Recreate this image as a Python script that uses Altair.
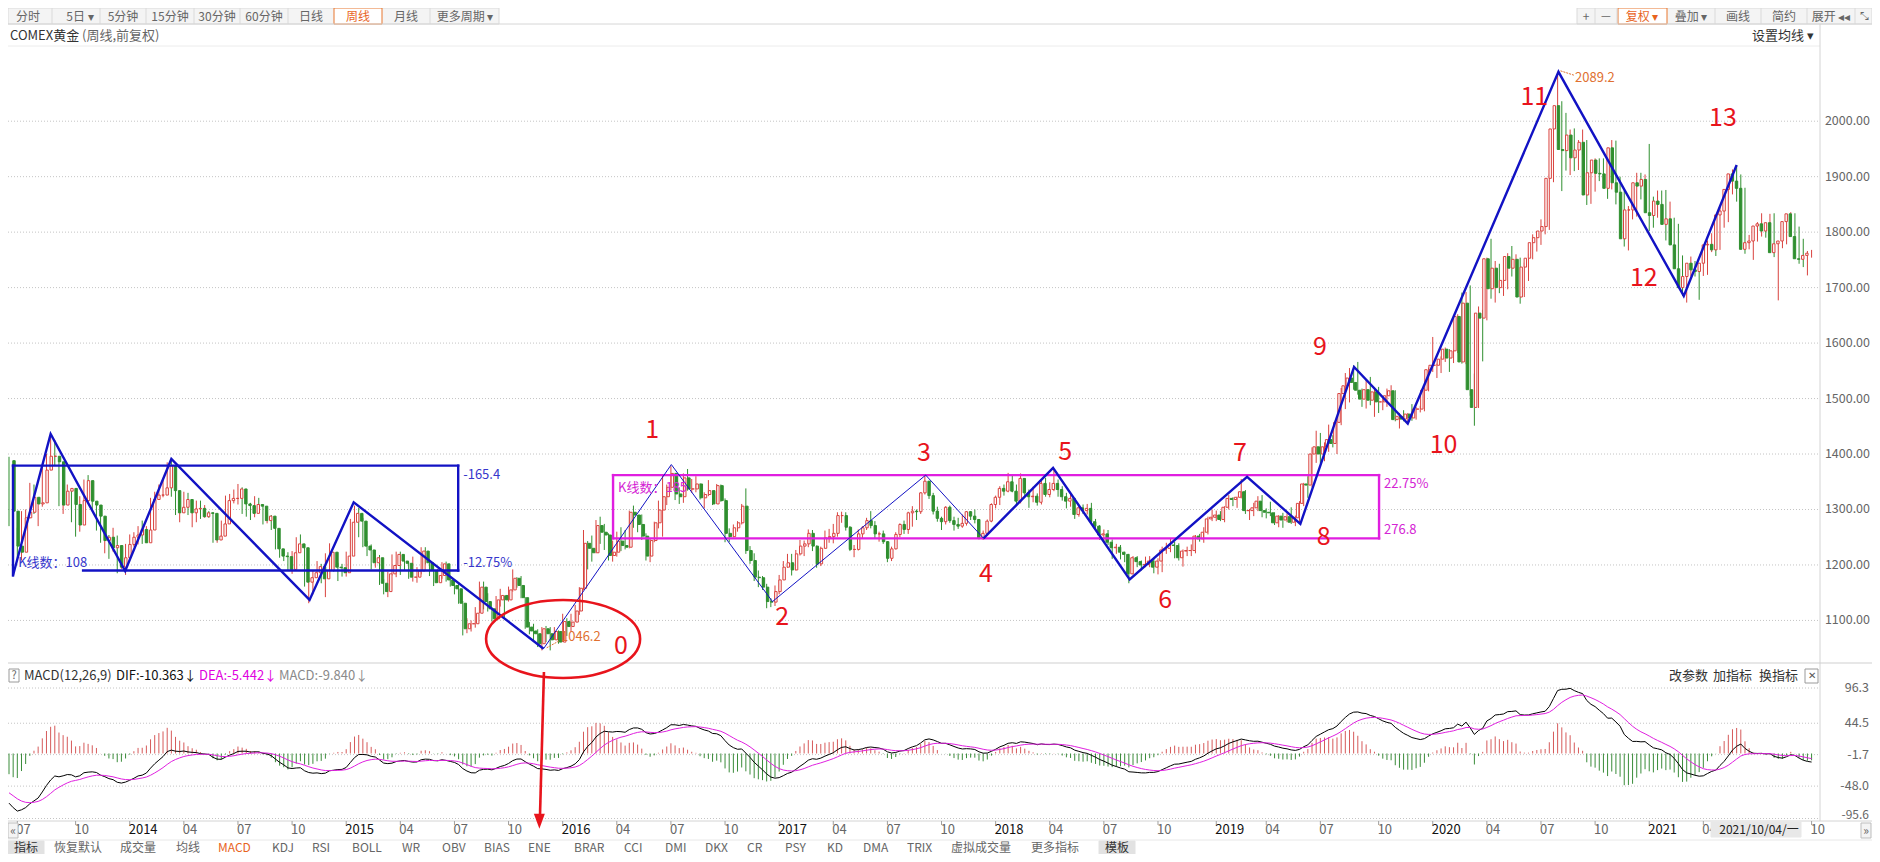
import altair as alt
import pandas as pd

FONT = "Noto Sans CJK SC"
W, H = 1864, 846
RED = "#d9423e"
GREEN = "#2f8f2f"
HRED = "#d65a5a"
HGREEN = "#3a8c3a"
BLUE = "#1212c4"
MAG = "#e01ee0"
ANN_RED = "#e8141c"
ORANGE = "#e07030"

# ---------------- weekly candles: index 0 = week of 2013-06-17 ... 433 = week of 2021-10-04
first_open = 1388
close_2013 = [1297,1234,1223,1285,1295,1322,1310,1312,1371,1396,1396,1386,1308,1333,1338,1309,1272,1316,1352,1315,1308,1288,1244,1250,1231,1235,1196,1213,1237]
high_2013 = [1395,1300,1267,1297,1300,1348,1345,1318,1378,1400,1434,1425,1390,1370,1345,1338,1325,1324,1354,1362,1327,1312,1295,1256,1254,1267,1253,1217,1238]
low_2013 = [1270,1180,1207,1208,1270,1284,1292,1270,1305,1357,1382,1380,1306,1292,1312,1277,1251,1260,1313,1310,1300,1262,1240,1221,1211,1224,1185,1193,1182]

close_2014 = [1250,1254,1264,1240,1263,1318,1326,1326,1339,1379,1334,1294,1304,1318,1294,1301,1302,1287,1294,1293,1245,1252,1274,1316,1320,1320,1337,1310,1307,1293,1309,1306,1280,1288,1266,1229,1216,1215,1192,1222,1238,1231,1169,1177,1186,1197,1175,1190,1223,1196,1195,1186]
high_2014 = [1255,1259,1270,1280,1270,1321,1332,1345,1355,1385,1392,1338,1305,1332,1330,1306,1316,1316,1308,1297,1295,1255,1280,1325,1328,1336,1346,1340,1320,1312,1324,1321,1307,1295,1290,1271,1238,1229,1223,1225,1250,1255,1235,1178,1190,1207,1202,1221,1239,1222,1204,1202]
low_2014 = [1217,1233,1237,1238,1240,1260,1306,1321,1322,1337,1323,1290,1277,1297,1290,1268,1277,1283,1285,1285,1240,1240,1250,1270,1311,1311,1309,1292,1287,1281,1286,1300,1273,1275,1263,1228,1213,1207,1190,1184,1219,1226,1161,1131,1147,1180,1167,1142,1187,1188,1171,1179]

close_2015 = [1216,1277,1293,1279,1234,1227,1204,1213,1167,1152,1184,1199,1219,1207,1203,1178,1178,1189,1225,1204,1190,1168,1181,1202,1173,1163,1157,1131,1085,1094,1094,1113,1160,1134,1121,1103,1137,1145,1137,1155,1176,1163,1141,1088,1081,1076,1058,1085,1076,1065,1080,1061]
high_2015 = [1224,1283,1307,1303,1285,1243,1237,1222,1218,1174,1188,1219,1224,1224,1209,1205,1215,1196,1232,1232,1208,1199,1193,1205,1206,1180,1174,1168,1135,1104,1100,1124,1170,1170,1149,1124,1144,1157,1145,1161,1192,1178,1180,1142,1097,1094,1084,1088,1090,1088,1088,1082]
low_2015 = [1179,1210,1275,1250,1232,1216,1192,1195,1164,1147,1142,1181,1178,1182,1191,1175,1170,1168,1183,1201,1180,1162,1170,1175,1170,1161,1147,1130,1073,1077,1080,1087,1113,1120,1116,1098,1102,1125,1105,1134,1152,1159,1140,1085,1075,1063,1052,1046,1061,1046,1067,1058]

close_2016 = [1098,1089,1097,1117,1158,1239,1230,1222,1271,1259,1254,1217,1223,1243,1235,1232,1295,1290,1273,1252,1216,1244,1276,1299,1323,1340,1365,1328,1323,1357,1337,1337,1346,1321,1327,1334,1310,1343,1316,1257,1251,1267,1276,1306,1226,1208,1178,1177,1160,1134,1133,1152]
high_2016 = [1112,1104,1112,1128,1160,1263,1243,1253,1281,1287,1274,1257,1244,1260,1268,1263,1298,1307,1286,1291,1257,1248,1278,1316,1362,1345,1378,1366,1340,1365,1373,1355,1360,1347,1331,1353,1330,1346,1345,1320,1266,1273,1279,1310,1338,1234,1221,1190,1180,1166,1140,1163]
low_2016 = [1071,1072,1080,1097,1110,1155,1192,1206,1221,1238,1227,1208,1206,1215,1225,1228,1230,1267,1259,1245,1208,1205,1241,1266,1251,1308,1334,1317,1310,1312,1334,1330,1331,1318,1302,1324,1308,1310,1314,1241,1241,1250,1260,1273,1220,1202,1171,1160,1155,1122,1124,1126]

close_2017 = [1173,1196,1204,1191,1220,1234,1238,1257,1234,1202,1230,1249,1251,1257,1289,1289,1268,1228,1228,1256,1267,1280,1271,1256,1256,1242,1212,1229,1255,1273,1264,1294,1297,1296,1330,1351,1325,1297,1284,1278,1304,1280,1273,1270,1275,1296,1288,1282,1248,1257,1279,1309]
high_2017 = [1182,1207,1220,1220,1227,1245,1244,1264,1263,1235,1233,1262,1265,1274,1295,1296,1295,1270,1236,1264,1270,1285,1297,1279,1260,1262,1243,1233,1259,1275,1280,1296,1306,1300,1331,1362,1348,1330,1305,1287,1306,1307,1287,1285,1291,1297,1297,1300,1280,1262,1282,1311]
low_2017 = [1147,1173,1195,1181,1190,1217,1216,1232,1225,1195,1198,1230,1240,1239,1251,1276,1262,1225,1214,1226,1248,1263,1266,1248,1242,1238,1205,1207,1228,1250,1256,1256,1269,1281,1292,1327,1319,1291,1278,1263,1273,1276,1262,1265,1267,1271,1281,1275,1246,1245,1253,1277]

close_2018 = [1322,1338,1333,1350,1333,1315,1356,1330,1323,1324,1313,1347,1327,1336,1347,1336,1323,1315,1320,1291,1303,1298,1302,1278,1270,1254,1256,1241,1231,1232,1223,1219,1184,1213,1206,1200,1201,1207,1196,1207,1227,1230,1236,1235,1213,1225,1226,1226,1252,1247,1259,1283,1286]
high_2018 = [1325,1342,1345,1366,1361,1345,1365,1355,1336,1341,1329,1355,1357,1349,1372,1354,1342,1330,1329,1321,1308,1309,1310,1312,1283,1272,1264,1263,1246,1238,1236,1224,1220,1216,1216,1208,1215,1216,1213,1212,1233,1240,1248,1242,1239,1228,1233,1237,1254,1256,1268,1287,1300]
low_2018 = [1302,1308,1325,1331,1331,1307,1311,1322,1303,1313,1307,1309,1323,1322,1333,1323,1316,1302,1305,1283,1287,1292,1291,1275,1262,1245,1240,1236,1211,1220,1210,1205,1167,1183,1196,1190,1196,1196,1185,1183,1187,1220,1223,1212,1208,1197,1216,1216,1221,1242,1240,1255,1279]

close_2019 = [1290,1282,1304,1320,1318,1322,1332,1298,1298,1303,1315,1298,1295,1294,1276,1288,1281,1287,1277,1285,1311,1346,1344,1400,1413,1400,1413,1426,1419,1457,1509,1523,1537,1529,1515,1499,1516,1497,1512,1494,1494,1505,1514,1462,1468,1463,1472,1465,1481,1481,1515,1552]
high_2019 = [1298,1297,1306,1326,1322,1323,1355,1335,1301,1312,1324,1326,1302,1314,1295,1290,1294,1293,1304,1289,1315,1348,1360,1412,1442,1438,1421,1453,1434,1459,1519,1546,1555,1560,1566,1518,1535,1539,1520,1521,1500,1518,1524,1515,1474,1479,1474,1490,1485,1487,1519,1556]
low_2019 = [1279,1279,1277,1300,1306,1303,1320,1292,1281,1288,1297,1286,1284,1288,1272,1268,1267,1277,1274,1270,1274,1306,1321,1340,1384,1383,1387,1404,1412,1400,1452,1481,1493,1516,1507,1485,1482,1488,1467,1474,1479,1485,1489,1459,1446,1459,1454,1460,1462,1475,1477,1513]

close_2020 = [1560,1560,1571,1589,1573,1586,1648,1566,1672,1516,1484,1654,1645,1752,1698,1735,1700,1713,1756,1735,1751,1683,1737,1753,1781,1790,1802,1810,1897,1986,2028,1949,1947,1975,1934,1948,1962,1867,1907,1930,1906,1905,1879,1952,1889,1872,1788,1840,1840,1889,1883,1895]
high_2020 = [1611,1563,1576,1592,1585,1588,1652,1691,1692,1704,1545,1666,1660,1754,1788,1748,1743,1722,1762,1775,1760,1754,1745,1761,1796,1799,1823,1818,1904,1988,2089,2036,2015,1985,1987,1966,1985,1966,1920,1933,1933,1933,1911,1966,1965,1900,1875,1847,1877,1907,1907,1904]
low_2020 = [1548,1537,1546,1566,1548,1564,1582,1563,1562,1505,1451,1483,1567,1641,1680,1673,1690,1685,1697,1720,1697,1671,1693,1712,1751,1765,1777,1796,1804,1890,1965,1874,1911,1903,1910,1912,1939,1849,1851,1873,1892,1895,1860,1877,1850,1853,1774,1767,1823,1828,1859,1870]

close_2021 = [1835,1830,1856,1850,1814,1824,1777,1734,1700,1720,1744,1732,1729,1744,1777,1778,1768,1831,1838,1877,1905,1892,1879,1769,1781,1784,1811,1815,1802,1817,1763,1779,1784,1819,1833,1792,1752,1751,1758,1762]
high_2021 = [1959,1864,1875,1875,1876,1855,1826,1815,1758,1740,1756,1748,1739,1759,1785,1798,1790,1846,1846,1890,1913,1921,1904,1880,1795,1795,1818,1834,1817,1833,1834,1783,1795,1823,1836,1834,1810,1788,1766,1768]
low_2021 = [1802,1808,1826,1832,1785,1810,1761,1717,1685,1673,1720,1720,1678,1721,1723,1764,1757,1768,1808,1818,1868,1855,1867,1761,1770,1750,1783,1792,1790,1789,1755,1677,1771,1778,1808,1780,1743,1737,1722,1754]

closes = close_2013 + close_2014 + close_2015 + close_2016 + close_2017 + close_2018 + close_2019 + close_2020 + close_2021
highs = high_2013 + high_2014 + high_2015 + high_2016 + high_2017 + high_2018 + high_2019 + high_2020 + high_2021
lows = low_2013 + low_2014 + low_2015 + low_2016 + low_2017 + low_2018 + low_2019 + low_2020 + low_2021
opens = [first_open] + closes[:-1]

# MACD(12,26,9) from the closes; EMA states carried in from before the first visible week
ema12, ema26, dea = 1400.0, 1470.0, -54.0
difs, deas, macds = [], [], []
for c in closes:
    ema12 += (c - ema12) * 2 / 13
    ema26 += (c - ema26) * 2 / 27
    d = ema12 - ema26
    dea += (d - dea) * 2 / 10
    difs.append(d)
    deas.append(dea)
    macds.append(2 * (d - dea))

n = len(closes)
kdf = pd.DataFrame({
    "i": list(range(n)), "o": opens, "c": closes,
    "h": [max(h, o, c) for h, o, c in zip(highs, opens, closes)],
    "l": [min(l, o, c) for l, o, c in zip(lows, opens, closes)],
})
mdf = pd.DataFrame({"i": list(range(n)), "dif": difs, "dea": deas, "macd": macds, "zero": [0.0] * n})

# ---------------- scales (one plot area; price and MACD panels share it)
X_DOM = [-1 / 4.163, (W - 1) / 4.163]
P_DOM = [2000 - (H - 113.2) / 0.5547, 2000 + 113.2 / 0.5547]
M_DOM = [96.3 - (H - 680) / 0.68, 96.3 + 680 / 0.68]
xs = alt.Scale(domain=X_DOM, nice=False, zero=False)
ps = alt.Scale(domain=P_DOM, nice=False, zero=False)
ms = alt.Scale(domain=M_DOM, nice=False, zero=False)


def X(f):
    return alt.X(f, type="quantitative", scale=xs, axis=None)


def YP(f):
    return alt.Y(f, type="quantitative", scale=ps, axis=None)


def YM(f):
    return alt.Y(f, type="quantitative", scale=ms, axis=None)


layers = []

# ---------------- UI chrome (pixel positions)
def ui_rects(rows, sw=1):
    df = pd.DataFrame(rows, columns=["x", "x2", "y", "y2", "fill", "stroke"])
    return alt.Chart(df).mark_rect(strokeWidth=sw).encode(
        x=alt.X("x:Q", scale=None), x2="x2:Q", y=alt.Y("y:Q", scale=None), y2="y2:Q",
        fill=alt.Fill("fill:N", scale=None), stroke=alt.Stroke("stroke:N", scale=None))


def ui_lines(rows):
    df = pd.DataFrame(rows, columns=["x", "x2", "y", "y2", "col"])
    return alt.Chart(df).mark_rule(strokeWidth=1).encode(
        x=alt.X("x:Q", scale=None), x2="x2:Q", y=alt.Y("y:Q", scale=None), y2="y2:Q",
        color=alt.Color("col:N", scale=None))


def ui_text(rows, align):
    df = pd.DataFrame(rows, columns=["x", "y", "t", "col", "sz"])
    return alt.Chart(df).mark_text(align=align, baseline="middle", font=FONT).encode(
        x=alt.X("x:Q", scale=None), y=alt.Y("y:Q", scale=None), text="t:N",
        color=alt.Color("col:N", scale=None), size=alt.Size("sz:Q", scale=None))


layers.append(ui_rects([
    (0, 491, 0, 16, "#f4f4f4", "#dadada"),
    (326, 374, 0, 16, "#ffffff", "#e8772e"),
    (1569, 1864, 0, 16, "#f4f4f4", "#dadada"),
    (1610, 1659, 0, 16, "#ffffff", "#e8772e"),
    (1, 11, 661, 674, "#ffffff", "#9a9a9a"),
    (1797, 1810, 661, 675, "#ffffff", "#9a9a9a"),
    (0, 36, 833, 846, "#e2e2e2", "#e2e2e2"),
    (1091, 1127, 833, 846, "#e2e2e2", "#e2e2e2"),
]))
layers.append(ui_lines([
    (44, 44, 0, 16, "#dadada"), (92, 92, 0, 16, "#dadada"), (138, 138, 0, 16, "#dadada"),
    (186, 186, 0, 16, "#dadada"), (232, 232, 0, 16, "#dadada"), (280, 280, 0, 16, "#dadada"),
    (422, 422, 0, 16, "#dadada"),
    (1587, 1587, 0, 16, "#dadada"), (1609, 1609, 0, 16, "#dadada"), (1707, 1707, 0, 16, "#dadada"),
    (1753, 1753, 0, 16, "#dadada"), (1799, 1799, 0, 16, "#dadada"), (1847, 1847, 0, 16, "#dadada"),
    (0, 1864, 16, 16, "#d6d6d6"),
    (0, 1812, 38, 38, "#ececec"),
    (1812, 1812, 16, 813, "#d4d4d4"),
    (0, 1864, 655, 655, "#cfcfcf"),
    (0, 1864, 813, 813, "#d4d4d4"),
    (0, 1864, 832, 832, "#e8e8e8"),
]))

# ---------------- grid lines and value labels
price_levels = [1100, 1200, 1300, 1400, 1500, 1600, 1700, 1800, 1900, 2000]
gp = pd.DataFrame({"p": price_levels, "t": ["%.2f" % v for v in price_levels]})
layers.append(alt.Chart(gp).mark_rule(strokeDash=[1, 2], color="#c4c4c4", strokeWidth=1).encode(
    y=YP("p"), x=alt.value(0), x2=alt.value(1811)))
layers.append(alt.Chart(gp).mark_text(align="right", baseline="middle", fontSize=12.5, font=FONT, color="#666666").encode(
    y=YP("p"), x=alt.value(1862), text="t:N"))

macd_levels = [96.3, 44.5, -1.7, -48.0, -95.6]
gm = pd.DataFrame({"m": macd_levels, "t": ["%.1f" % v for v in macd_levels]})
layers.append(alt.Chart(gm).mark_rule(strokeDash=[1, 2], color="#c4c4c4", strokeWidth=1).encode(
    y=YM("m"), x=alt.value(0), x2=alt.value(1811)))
layers.append(alt.Chart(gm.iloc[:4]).mark_text(align="right", baseline="middle", fontSize=12.5, font=FONT, color="#666666").encode(
    y=YM("m"), x=alt.value(1861), text="t:N"))
layers.append(alt.Chart(gm.iloc[4:]).mark_text(align="right", baseline="middle", dy=-3, fontSize=12, font=FONT, color="#666666").encode(
    y=YM("m"), x=alt.value(1861), text="t:N"))

# ---------------- candles
upcond = "datum.c >= datum.o"
layers.append(alt.Chart(kdf).mark_rule(strokeWidth=1).encode(
    x=X("i"), y=YP("l"), y2=alt.Y2("h"),
    color=alt.condition(upcond, alt.value(RED), alt.value(GREEN))))
layers.append(alt.Chart(kdf).mark_bar(size=2.4, strokeWidth=1).encode(
    x=X("i"), y=YP("o"), y2=alt.Y2("c"),
    fill=alt.condition(upcond, alt.value("#ffffff"), alt.value(GREEN)),
    stroke=alt.condition(upcond, alt.value(RED), alt.value(GREEN))))

# ---------------- MACD panel
layers.append(alt.Chart(mdf).mark_rule(strokeWidth=1).encode(
    x=X("i"), y=YM("zero"), y2=alt.Y2("macd"),
    color=alt.condition("datum.macd >= 0", alt.value(HRED), alt.value(HGREEN))))
layers.append(alt.Chart(mdf).mark_line(color="#000000", strokeWidth=1).encode(x=X("i"), y=YM("dif")))
layers.append(alt.Chart(mdf).mark_line(color="#e020e0", strokeWidth=1).encode(x=X("i"), y=YM("dea")))

# ---------------- drawn annotations
rect1 = pd.DataFrame({
    "i": [0.96, 107.9, 17.8, 0.96], "i2": [107.9, 107.9, 107.9, 0.96],
    "p": [1379, 1379, 1190, 1379], "p2": [1379, 1190, 1190, 1181]})
layers.append(alt.Chart(rect1).mark_rule(color=BLUE, strokeWidth=2.4, strokeCap="square").encode(
    x=X("i"), x2=alt.X2("i2"), y=YP("p"), y2=alt.Y2("p2")))
rect2 = pd.DataFrame({
    "i": [145.1, 329.1, 145.1, 145.1], "i2": [329.1, 329.1, 329.1, 145.1],
    "p": [1362, 1362, 1248, 1362], "p2": [1362, 1248, 1248, 1248]})
layers.append(alt.Chart(rect2).mark_rule(color=MAG, strokeWidth=2.4, strokeCap="square").encode(
    x=X("i"), x2=alt.X2("i2"), y=YP("p"), y2=alt.Y2("p2")))

zz_thick1 = pd.DataFrame({"i": [0.96, 10.0, 27.9, 39.0, 72.2, 82.8, 128.4],
                          "p": [1181, 1436, 1189, 1391, 1137, 1313, 1049]})
zz_thin = pd.DataFrame({"i": [128.4, 159.1, 183.4, 220.2, 234.1],
                        "p": [1049, 1381, 1134, 1362, 1248]})
zz_thick2 = pd.DataFrame({"i": [234.1, 250.8, 269.2, 297.4, 310.2, 323.1, 336.0, 372.2, 402.3, 415.0],
                          "p": [1248, 1375, 1174, 1359, 1274, 1557, 1455, 2089, 1685, 1921]})
layers.append(alt.Chart(zz_thick1).mark_line(color=BLUE, strokeWidth=2.4).encode(x=X("i"), y=YP("p")))
layers.append(alt.Chart(zz_thin).mark_line(color=BLUE, strokeWidth=1).encode(x=X("i"), y=YP("p")))
layers.append(alt.Chart(zz_thick2).mark_line(color=BLUE, strokeWidth=2.4).encode(x=X("i"), y=YP("p")))

blue_lbl = pd.DataFrame({"i": [2.2, 109.1, 109.1], "p": [1203.5, 1362, 1204],
                         "t": ["K线数：108", "-165.4", "-12.75%"]})
layers.append(alt.Chart(blue_lbl).mark_text(align="left", baseline="middle", fontSize=13, font=FONT, color="#3636cc").encode(
    x=X("i"), y=YP("p"), text="t:N"))
mag_lbl = pd.DataFrame({"i": [146.3, 330.3, 330.3], "p": [1339, 1346, 1263],
                        "t": ["K线数：185", "22.75%", "276.8"]})
layers.append(alt.Chart(mag_lbl).mark_text(align="left", baseline="middle", fontSize=13, font=FONT, color="#d424d4").encode(
    x=X("i"), y=YP("p"), text="t:N"))
org_lbl = pd.DataFrame({"i": [376.2, 132.6], "p": [2078, 1070], "t": ["2089.2", "1046.2"]})
layers.append(alt.Chart(org_lbl).mark_text(align="left", baseline="middle", fontSize=13, font=FONT, color=ORANGE).encode(
    x=X("i"), y=YP("p"), text="t:N"))
org_arrow = pd.DataFrame({"i": [375.9, 132.1], "i2": [372.6, 129.0], "p": [2083, 1063], "p2": [2091, 1050]})
layers.append(alt.Chart(org_arrow).mark_rule(color=ORANGE, strokeWidth=1, strokeDash=[2, 1]).encode(
    x=X("i"), x2=alt.X2("i2"), y=YP("p"), y2=alt.Y2("p2")))

wave_i = [147.0, 154.5, 185.7, 219.8, 234.7, 253.7, 277.7, 295.7, 315.8, 314.9, 344.6, 366.4, 392.7, 411.7]
wave_p = [1054.6, 1443.3, 1106, 1401, 1184.6, 1404.5, 1136.8, 1401.8, 1251, 1593.8, 1415.4, 2043.6, 1718, 2004.9]
wave_t = ["0", "1", "2", "3", "4", "5", "6", "7", "8", "9", "10", "11", "12", "13"]
layers.append(alt.Chart(pd.DataFrame({"i": wave_i, "p": wave_p, "t": wave_t})).mark_text(
    align="center", baseline="middle", fontSize=25, font=FONT, color=ANN_RED).encode(
    x=X("i"), y=YP("p"), text="t:N"))

ELLIPSE = "M-1,0C-1,-0.2795,-0.5523,-0.506,0,-0.506C0.5523,-0.506,1,-0.2795,1,0C1,0.2795,0.5523,0.506,0,0.506C-0.5523,0.506,-1,0.2795,-1,0Z"
layers.append(alt.Chart(pd.DataFrame({"i": [133.1], "p": [1066.5]})).mark_point(
    shape=ELLIPSE, size=23716, filled=False, color=ANN_RED, strokeWidth=2.6, opacity=1).encode(
    x=X("i"), y=YP("p")))
layers.append(alt.Chart(pd.DataFrame({"i": [128.5], "i2": [127.55], "p": [1007], "p2": [748]})).mark_rule(
    color=ANN_RED, strokeWidth=2.6).encode(x=X("i"), x2=alt.X2("i2"), y=YP("p"), y2=alt.Y2("p2")))
layers.append(alt.Chart(pd.DataFrame({"i": [127.4], "p": [738]})).mark_point(
    shape="M-1,-1.35L1,-1.35L0,1.35Z", size=121, filled=True, color=ANN_RED, opacity=1).encode(
    x=X("i"), y=YP("p")))

# ---------------- time axis (the 2021 "07" label sits under the date box and is not shown)
tick_i = [2, 16, 29, 42, 55, 68, 81, 94, 107, 120, 133, 146, 159, 172, 185, 198, 211, 224, 237, 250, 263, 276,
          290, 302, 315, 329, 342, 355, 368, 381, 394, 407, 433]
tick_t = ["07", "10", "2014", "04", "07", "10", "2015", "04", "07", "10", "2016", "04", "07", "10", "2017", "04",
          "07", "10", "2018", "04", "07", "10", "2019", "04", "07", "10", "2020", "04", "07", "10", "2021", "04",
          "10"]
tdf = pd.DataFrame({"i": tick_i, "t": tick_t, "yr": [len(s) == 4 for s in tick_t]})
layers.append(alt.Chart(tdf).mark_rule(color="#a0a0a0", strokeWidth=1).encode(
    x=X("i"), y=alt.value(813), y2=alt.value(817)))
layers.append(alt.Chart(tdf).mark_text(align="left", baseline="middle", dx=-1, fontSize=13, font=FONT).encode(
    x=X("i"), y=alt.value(821.5), text="t:N",
    color=alt.condition("datum.yr", alt.value("#111111"), alt.value("#666666"))))

layers.append(ui_rects([
    (0, 10, 815, 830, "#f4f4f4", "#bdbdbd"),
    (1853, 1863, 815, 830, "#f4f4f4", "#bdbdbd"),
    (1703, 1793, 814, 829, "#e8e8e8", "#e8e8e8"),
]))

# ---------------- UI texts
GRAY = "#666666"
layers.append(ui_text([
    (20, 9, "分时", GRAY, 12), (72, 9, "5日 ▾", GRAY, 12), (115, 9, "5分钟", GRAY, 12),
    (162, 9, "15分钟", GRAY, 12), (209, 9, "30分钟", GRAY, 12), (256, 9, "60分钟", GRAY, 12),
    (303, 9, "日线", GRAY, 12), (350, 9, "周线", "#e8641e", 12), (398, 9, "月线", GRAY, 12),
    (457, 9, "更多周期 ▾", GRAY, 12),
    (1578, 9, "+", GRAY, 12), (1598, 9, "—", GRAY, 11), (1634, 9, "复权 ▾", "#e8641e", 12),
    (1683, 9, "叠加 ▾", GRAY, 12), (1730, 9, "画线", GRAY, 12), (1776, 9, "简约", GRAY, 12),
    (1823, 9, "展开 ◂◂", GRAY, 12), (1856, 9, "⤡", GRAY, 11),
    (6, 668, "?", GRAY, 11), (1803.5, 668, "✕", "#555555", 10),
    (5, 822.5, "«", GRAY, 12), (1858, 822.5, "»", GRAY, 12),
    (1751, 821.5, "2021/10/04/一", "#222222", 12),
    (18, 839.5, "指标", "#333333", 12), (1109, 839.5, "模板", "#333333", 12),
], "center"))
layers.append(ui_text([
    (2, 28, "COMEX黄金", "#333333", 13), (74, 28, "(周线,前复权)", "#666666", 13),
    (1744, 28, "设置均线 ▾", "#333333", 13),
    (16, 668, "MACD(12,26,9)", "#333333", 13), (108, 668, "DIF:-10.363↓", "#111111", 13),
    (191, 668, "DEA:-5.442↓", "#e000e0", 13), (271, 668, "MACD:-9.840↓", "#8a8a8a", 13),
    (1661, 668, "改参数", "#333333", 13), (1705, 668, "加指标", "#333333", 13), (1751, 668, "换指标", "#333333", 13),
    (46, 839.5, "恢复默认", GRAY, 12), (112, 839.5, "成交量", GRAY, 12), (168, 839.5, "均线", GRAY, 12),
    (210, 839.5, "MACD", "#e8641e", 12), (264, 839.5, "KDJ", GRAY, 12), (304, 839.5, "RSI", GRAY, 12),
    (344, 839.5, "BOLL", GRAY, 12), (394, 839.5, "WR", GRAY, 12), (434, 839.5, "OBV", GRAY, 12),
    (476, 839.5, "BIAS", GRAY, 12), (520, 839.5, "ENE", GRAY, 12), (566, 839.5, "BRAR", GRAY, 12),
    (616, 839.5, "CCI", GRAY, 12), (657, 839.5, "DMI", GRAY, 12), (697, 839.5, "DKX", GRAY, 12),
    (739, 839.5, "CR", GRAY, 12), (777, 839.5, "PSY", GRAY, 12), (819, 839.5, "KD", GRAY, 12),
    (855, 839.5, "DMA", GRAY, 12), (899, 839.5, "TRIX", GRAY, 12), (943, 839.5, "虚拟成交量", GRAY, 12),
    (1023, 839.5, "更多指标", GRAY, 12),
], "left"))

chart = alt.layer(*layers).properties(
    width=W, height=H, padding=0, autosize=alt.AutoSizeParams(type="none")
).resolve_scale(x="independent", y="independent").configure_view(stroke=None).configure_text(font=FONT)

chart.save("out.html", embed_options={"renderer": "svg", "actions": False})
